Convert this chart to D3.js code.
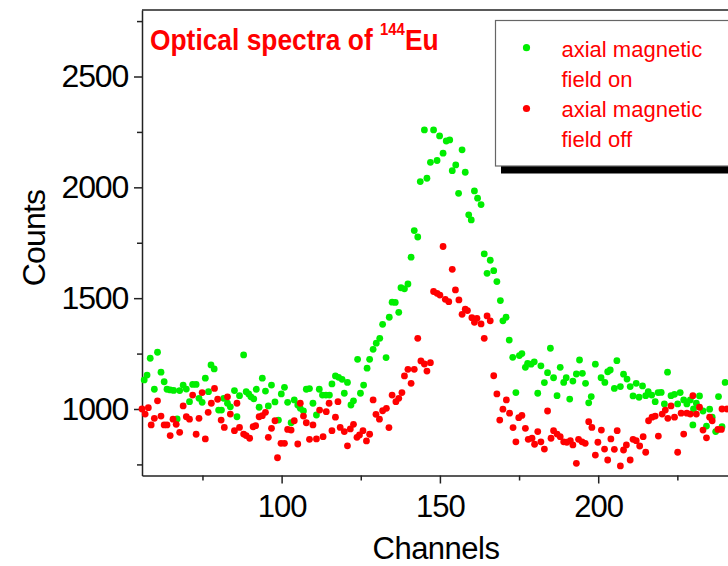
<!DOCTYPE html>
<html>
<head>
<meta charset="utf-8">
<script src="https://cdn.jsdelivr.net/npm/d3@7/dist/d3.min.js"></script>
<style>
  html, body { margin: 0; padding: 0; background: #fff; }
  svg { display: block; font-family: Arial, "Liberation Sans", sans-serif; }
</style>
</head>
<body>
<svg id="chart" width="728" height="566"></svg>
<script>
// ---------- data ----------
const greenChannels = [56.6,57.5,58.5,59.8,60.8,61.9,62.9,63.8,64.8,65.9,67.0,67.8,68.9,69.9,70.9,71.9,73.0,73.9,74.9,75.9,76.9,77.7,78.7,80.1,81.0,81.7,82.9,83.8,85.1,85.9,86.7,88.0,88.8,89.6,90.3,91.2,92.0,92.9,93.9,94.9,95.8,96.8,97.9,99.0,99.9,100.9,101.9,103.0,104.0,105.1,105.9,106.9,107.8,108.8,109.9,111.0,111.9,112.9,114.0,115.1,115.9,117.0,118.0,
  119.1,119.8,120.8,121.9,122.7,124.0,124.9,125.9,127.0,127.8,128.9,129.9,131.0,131.9,133.0,134.0,134.9,135.9,137.0,137.7,138.8,139.9,140.9,141.9,143.0,143.8,145.1,145.9,147.0,148.0,149.1,149.9,151.0,152.0,153.1,153.9,155.0,155.9,157.0,158.0,159.1,159.9,160.9,161.9,163.0,164.0,164.9,165.9,167.0,168.0,169.1,169.9,170.9,171.9,173.0,174.0,175.1,175.9,177.0,177.7,
  178.8,179.8,180.9,181.9,183.0,184.0,184.9,185.9,187.0,188.0,189.1,189.9,191.0,192.0,193.1,194.1,195.0,196.0,197.0,197.8,199.1,200.9,202.1,203.0,203.8,205.1,205.9,207.0,208.0,209.1,210.1,211.0,212.0,212.9,214.0,215.0,215.8,216.9,218.0,218.9,219.9,220.9,221.9,223.0,224.1,225.1,225.9,227.0,228.0,229.1,229.9,230.1,231.0,232.0,233.1,234.2,235.2,236.0,237.1,238.0,239.1,240.1];
const greenCounts = [1131,1153,1229,1089,1256,1166,1123,1089,1086,1084,955,1083,1108,1090,1033,1111,1111,1048,1030,1139,1078,1199,1181,995,995,1048,1026,1010,1083,965,1060,1244,1078,1068,1055,1046,1089,1008,1139,1081,1014,1108,1032,950,1068,1098,1030,938,1041,1018,1003,991,1089,1092,1026,973,1089,1063,1063,1063,1113,1149,1143,
  1134,1071,1120,1018,1037,1224,1071,1108,1184,1224,1269,1297,1319,1382,1232,1414,1482,1481,1436,1547,1542,1564,1685,1805,1776,2026,2259,2041,2113,2259,2121,2232,2154,2209,2214,2075,2101,1973,2169,2068,1876,1853,1984,1951,1922,1700,1612,1671,1624,1575,1489,1398,1414,1311,1233,1074,1241,1250,1188,1206,
  1202,1213,1071,1195,1119,1164,1274,1141,1060,1188,1120,1141,1045,1126,1158,1221,1161,1116,1028,1056,1202,1141,1120,1168,1176,1093,1218,1101,1157,1135,1101,1059,1116,1053,1104,1060,1078,1063,1033,1074,1075,1023,1166,1060,1066,1023,1074,1041,1023,1041,928,1000,1026,1059,991,923,999,963,898,1056,920,1120];

const redChannels = [55.9,56.9,57.9,58.8,59.8,60.8,61.9,62.9,63.8,64.8,65.7,66.7,67.8,68.9,69.9,70.9,71.9,73.0,73.9,74.9,75.9,76.8,77.8,78.8,79.8,80.9,81.9,82.9,83.8,85.1,85.9,86.7,88.0,88.8,89.9,91.0,91.8,92.9,93.9,94.9,95.8,96.8,97.9,98.7,99.8,100.9,101.9,103.0,104.0,105.1,105.9,106.9,107.8,108.8,109.9,111.0,112.0,113.1,114.1,115.0,115.9,117.0,117.8,118.5,
  119.8,120.8,121.7,122.7,123.8,124.6,125.7,126.8,127.8,128.9,129.8,130.9,131.9,133.1,133.9,134.9,136.1,137.0,138.0,138.8,139.9,140.9,141.9,143.0,144.0,145.1,145.9,147.0,148.0,149.1,150.0,151.0,151.7,152.8,153.9,154.9,156.0,157.0,158.0,158.7,160.1,160.9,161.7,163.0,164.0,164.9,165.9,167.0,168.0,168.9,169.9,171.0,172.0,173.1,174.0,174.9,175.9,177.0,177.9,
  179.1,179.9,180.9,181.9,183.0,184.0,185.1,185.9,187.0,188.0,189.1,190.1,191.2,192.0,193.1,193.8,194.9,195.9,197.0,198.0,199.1,199.9,201.0,202.0,203.0,204.0,205.1,206.0,207.0,208.0,208.9,210.1,211.0,212.0,213.1,214.2,215.0,215.9,217.0,218.0,219.0,220.2,221.2,222.0,223.0,224.1,225.1,226.2,227.0,228.0,229.1,229.9,231.0,232.0,233.1,234.2,235.2,236.0,237.8,238.9,239.1,240.7];
const redCounts = [1000,977,1006,928,958,1037,968,928,928,880,954,931,895,1014,965,954,1063,886,958,1074,865,985,1026,1093,1044,950,917,1055,977,902,1026,917,887,880,868,920,925,965,970,985,872,913,947,780,845,845,908,905,947,842,1026,968,938,863,928,865,995,875,988,1026,902,963,1033,917,
  898,834,910,931,872,883,902,856,886,1041,976,954,992,1003,916,1063,1033,1048,1074,1149,1179,1116,1179,1319,1217,1203,1171,1209,1530,1522,1514,1733,1495,1484,1630,1537,1492,1427,1450,1444,1412,1391,1409,1384,1319,1420,1398,1150,1068,950,999,1041,981,916,852,961,971,913,863,
  868,841,898,852,819,991,868,902,887,875,852,850,857,838,755,863,852,845,943,917,792,850,905,819,770,865,818,902,743,815,838,770,863,857,833,875,805,947,963,968,878,977,995,958,1014,963,805,981,887,981,977,1060,977,1008,905,870,963,947,908,908,1000,1000];

const xMajorTicks = [100, 150, 200];
const xMinorTicks = [75, 125, 175, 225];
const yMajorTicks = [1000, 1500, 2000, 2500];
const yMinorTicks = [750, 1250, 1750, 2250, 2750];
const legendLabels = [["axial magnetic", "field on"], ["axial magnetic", "field off"]];
const seriesColors = ["#00ee00", "#ff0000"];

// ---------- drawing ----------
const svg = d3.select("#chart");
const x = d3.scaleLinear().domain([55.9, 250]).range([142, 756.5]);
const y = d3.scaleLinear().domain([700, 2800]).range([475.5, 10]);

const axisColor = "#222";
const fmt = d3.format("d");

// top frame line
svg.append("line")
  .attr("x1", x.range()[0]).attr("x2", 740)
  .attr("y1", y(2800)).attr("y2", y(2800))
  .attr("stroke", axisColor).attr("stroke-width", 1.5);

// minor ticks
svg.append("g").attr("transform", `translate(${x.range()[0]},0)`)
  .call(d3.axisLeft(y).tickValues(yMinorTicks).tickSize(5).tickSizeOuter(0).tickFormat(""))
  .call(g => g.select(".domain").remove())
  .call(g => g.selectAll("line").attr("stroke", axisColor).attr("stroke-width", 1.5));
svg.append("g").attr("transform", `translate(0,${y.range()[0]})`)
  .call(d3.axisBottom(x).tickValues(xMinorTicks).tickSize(5).tickSizeOuter(0).tickFormat(""))
  .call(g => g.select(".domain").remove())
  .call(g => g.selectAll("line").attr("stroke", axisColor).attr("stroke-width", 1.5));

// major axes
svg.append("g").attr("transform", `translate(${x.range()[0]},0)`)
  .call(d3.axisLeft(y).tickValues(yMajorTicks).tickFormat(fmt).tickSize(8).tickSizeOuter(0).tickPadding(6))
  .call(g => g.select(".domain").attr("stroke", axisColor).attr("stroke-width", 1.5))
  .call(g => g.selectAll("line").attr("stroke", axisColor).attr("stroke-width", 1.5))
  .call(g => g.selectAll("text").attr("fill", "#000")
     .style("font-size", "32px").style("letter-spacing", "-1.2px")
     .style("font-family", "Arial, 'Liberation Sans', sans-serif"));

svg.append("g").attr("transform", `translate(0,${y.range()[0]})`)
  .call(d3.axisBottom(x).tickValues(xMajorTicks).tickFormat(fmt).tickSize(8).tickSizeOuter(0).tickPadding(11.5))
  .call(g => g.select(".domain").attr("stroke", axisColor).attr("stroke-width", 1.5))
  .call(g => g.selectAll("line").attr("stroke", axisColor).attr("stroke-width", 1.5))
  .call(g => g.selectAll("text").attr("fill", "#000")
     .style("font-size", "31px").style("letter-spacing", "-1px")
     .style("font-family", "Arial, 'Liberation Sans', sans-serif"));

// axis titles
svg.append("text")
  .attr("transform", "translate(45,238) rotate(-90)")
  .attr("text-anchor", "middle")
  .style("font-size", "32px").style("letter-spacing", "-0.8px")
  .text("Counts");
svg.append("text")
  .attr("x", 436).attr("y", 559)
  .attr("text-anchor", "middle")
  .style("font-size", "31px").style("letter-spacing", "-0.5px")
  .text("Channels");

// data points (green first, red on top)
const r = 3.4;
svg.append("g").selectAll("circle")
  .data(d3.zip(greenChannels, greenCounts))
  .join("circle")
  .attr("cx", d => x(d[0])).attr("cy", d => y(d[1])).attr("r", r)
  .attr("fill", seriesColors[0]);
svg.append("g").selectAll("circle")
  .data(d3.zip(redChannels, redCounts))
  .join("circle")
  .attr("cx", d => x(d[0])).attr("cy", d => y(d[1])).attr("r", r)
  .attr("fill", seriesColors[1]);

// title: one text element, horizontally condensed like the original
const title = svg.append("text")
  .attr("transform", "translate(150,50) scale(0.879,1)")
  .attr("fill", "#ff0000")
  .style("font-weight", "bold").style("font-size", "30px");
title.append("tspan").text("Optical spectra of\u00a0");
title.append("tspan").attr("dy", -15).style("font-size", "17px").text("144");
title.append("tspan").attr("dy", 15).text("Eu");

// legend
const lg = svg.append("g");
lg.append("rect").attr("x", 501).attr("y", 27).attr("width", 300).attr("height", 146.5).attr("fill", "#000");
lg.append("rect").attr("x", 495.5).attr("y", 20.5).attr("width", 300).attr("height", 145.5)
  .attr("fill", "#fff").attr("stroke", "#666").attr("stroke-width", 1.2);
const legendRows = [47.7, 108.5];
legendLabels.forEach((lines, i) => {
  lg.append("circle").attr("cx", 526.5).attr("cy", legendRows[i]).attr("r", 3.6).attr("fill", seriesColors[i]);
  lines.forEach((t, j) => {
    lg.append("text").attr("x", 561.5).attr("y", 57 + i * 60 + j * 30)
      .attr("fill", "#ff0000").style("font-size", "22px")
      .text(t);
  });
});
</script>
</body>
</html>
